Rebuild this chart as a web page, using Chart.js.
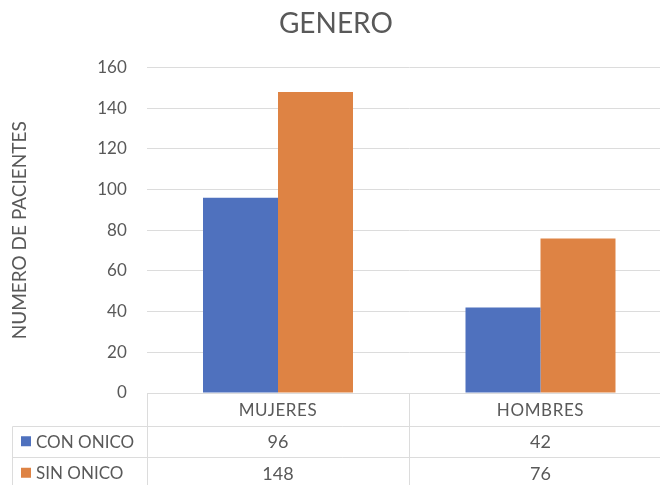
<!DOCTYPE html>
<html>
<head>
<meta charset="utf-8">
<script src="https://cdn.jsdelivr.net/npm/chart.js@4/dist/chart.umd.min.js"></script>
<style>
  html, body { margin: 0; padding: 0; background: #fff; overflow: hidden; }
  #wrap { position: relative; width: 680px; height: 485px; }
</style>
</head>
<body>
<div id="wrap"><canvas id="c"></canvas></div>
<script>
// Patients by gender, with / without onychomycosis
const categories = ['MUJERES', 'HOMBRES'];
const seriesNames = ['CON ONICO', 'SIN ONICO'];
const conOnico = [96, 42];
const sinOnico = [148, 76];
const yTicks = [0, 20, 40, 60, 80, 100, 120, 140, 160];

const seriesValues = [conOnico, sinOnico];
const seriesColors = ['#4F71BE', '#DE8344'];
const TEXT = '#595959';
const LINE = '#DCDCDC';
const FONT = 'Lato, "Open Sans", sans-serif';

// Data table under the plot: category header row plus one row per series
const dataTable = {
  id: 'dataTable',
  afterDraw(chart) {
    const { ctx, chartArea: a, scales: { x } } = chart;
    const rowTop = a.bottom;
    const rowH = [32.5, 31.5, 31.5];
    const y1 = rowTop + rowH[0];
    const y2 = y1 + rowH[1];
    const y3 = y2 + rowH[2];
    const tableLeft = 12.5;
    const half = (x.getPixelForValue(1) - x.getPixelForValue(0)) / 2;

    ctx.save();
    ctx.strokeStyle = LINE;
    ctx.lineWidth = 1;
    ctx.beginPath();
    // column separators
    for (let i = 0; i <= categories.length; i++) {
      const px = Math.round(x.getPixelForValue(i) - half) + 0.5;
      ctx.moveTo(px, rowTop);
      ctx.lineTo(px, y3);
    }
    // row separators
    [y1, y2].forEach(yy => {
      const py = Math.round(yy) + 0.5;
      ctx.moveTo(tableLeft, py);
      ctx.lineTo(a.right, py);
    });
    ctx.moveTo(tableLeft, Math.round(y1) + 0.5);
    ctx.lineTo(tableLeft, y3);
    ctx.stroke();

    ctx.fillStyle = TEXT;
    ctx.textAlign = 'center';
    ctx.textBaseline = 'middle';
    ctx.font = '17px ' + FONT;
    if ('letterSpacing' in ctx) ctx.letterSpacing = '0.6px';
    categories.forEach((c, i) => {
      ctx.fillText(c, x.getPixelForValue(i), rowTop + rowH[0] / 2 + 1);
    });
    ctx.font = '18px ' + FONT;
    if ('letterSpacing' in ctx) ctx.letterSpacing = '0px';
    const rowMid = [y1 + rowH[1] / 2, y2 + rowH[2] / 2];
    seriesValues.forEach((vals, s) => {
      vals.forEach((v, i) => {
        ctx.fillText(String(v), x.getPixelForValue(i), rowMid[s] + 1);
      });
    });
    // legend keys and series names
    ctx.textAlign = 'left';
    ctx.font = '17px ' + FONT;
    seriesNames.forEach((n, s) => {
      ctx.fillStyle = seriesColors[s];
      ctx.fillRect(21, rowMid[s] - 5, 10, 10);
      ctx.fillStyle = TEXT;
      ctx.fillText(n, 36, rowMid[s] + 1);
    });
    ctx.restore();
  }
};

new Chart(document.getElementById('c'), {
  type: 'bar',
  data: {
    labels: categories,
    datasets: seriesNames.map((n, s) => ({
      label: n,
      data: seriesValues[s],
      backgroundColor: seriesColors[s],
      borderWidth: 0,
      categoryPercentage: 0.5714,
      barPercentage: 1.0
    }))
  },
  options: {
    responsive: true,
    maintainAspectRatio: false,
    animation: false,
    devicePixelRatio: 1,
    layout: { padding: { top: 0, right: 8.25, bottom: 92, left: 0 } },
    plugins: {
      legend: { display: false },
      tooltip: { enabled: false },
      title: {
        display: true,
        text: 'GENERO',
        color: TEXT,
        font: { family: FONT, size: 28, weight: 'normal', lineHeight: 1.2 },
        padding: { top: 7, bottom: 26.9 }
      }
    },
    scales: {
      x: { display: false },
      y: {
        min: 0,
        max: 160,
        afterBuildTicks(scale) { scale.ticks = yTicks.map(v => ({ value: v })); },
        afterFit(scale) { scale.width = 146.75; },
        border: { display: false },
        grid: { color: LINE, drawTicks: false, lineWidth: 1 },
        ticks: {
          color: TEXT,
          padding: 20,
          font: { family: FONT, size: 17 }
        },
        title: {
          display: true,
          text: 'NUMERO DE PACIENTES',
          color: TEXT,
          font: { family: FONT, size: 19, lineHeight: 1.2 },
          padding: { top: 8, bottom: 0 }
        }
      }
    }
  },
  plugins: [dataTable]
});
</script>
</body>
</html>
